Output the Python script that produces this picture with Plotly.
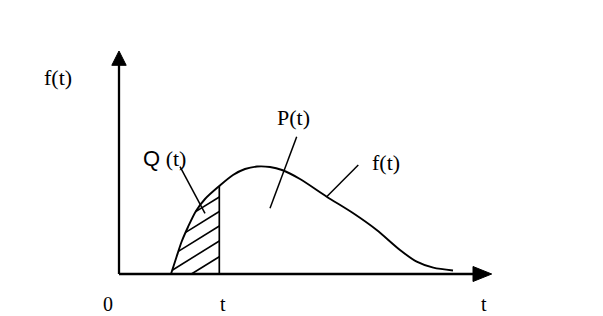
import numpy as np
import plotly.graph_objects as go

# density curve f(t) (schematic values)
T_VALUES = [5.2, 5.75, 6.25, 6.9, 7.7, 8.6, 10.03, 11.4, 12.6, 13.8, 15.1, 16.3,
            18.1, 20.77, 23.43, 25.77, 28.1, 29.77, 31.43, 33.4]
F_VALUES = [0.0, 1.7, 3.2, 4.7, 6.3, 7.5, 8.8, 9.9, 10.5, 10.75, 10.7, 10.4,
            9.5, 7.73, 6.07, 4.4, 2.4, 1.23, 0.63, 0.35]
T_CUT = 10.03                      # the time t splitting Q(t) and P(t)
HATCH_LEVELS = [1.73, 3.3, 4.8, 6.25, 7.7]   # hatch line heights at t
HATCH_SLOPE = 0.62

X_AXIS_END, X_ARROW_TIP = 35.7, 37.27
Y_AXIS_END, Y_ARROW_TIP = 21.07, 22.3

LABELS = [  # text, x, y, font family, size
    ("f(t)", -6.07, 19.65, "Liberation Serif", 22),
    ("<span style='font-family:Liberation Sans'>Q</span> (t)", 4.5, 11.6, "Liberation Serif", 22),
    ("P(t)", 17.47, 15.7, "Liberation Serif", 22),
    ("f(t)", 26.7, 11.2, "Liberation Serif", 22),
    ("0", -1.15, -2.95, "Liberation Serif", 20),
    ("t", 10.35, -2.95, "Liberation Serif", 20),
    ("t", 36.5, -2.95, "Liberation Serif", 20),
]
LEADERS = [  # label leader lines: x0, y0, x1, y1
    (6.1, 10.73, 8.6, 6.07),
    (17.77, 13.73, 15.1, 6.57),
    (23.93, 10.9, 20.77, 7.73),
]

t_arr = np.array(T_VALUES)
f_arr = np.array(F_VALUES)

fig = go.Figure()

# curve
fig.add_trace(go.Scatter(x=T_VALUES, y=F_VALUES, mode="lines",
                         line=dict(color="black", width=1.9, shape="spline", smoothing=0.8),
                         hoverinfo="skip"))

# vertical line at t
f_cut = float(np.interp(T_CUT, t_arr, f_arr))
fig.add_trace(go.Scatter(x=[T_CUT, T_CUT], y=[0, f_cut], mode="lines",
                         line=dict(color="black", width=1.7), hoverinfo="skip"))

# hatching of Q(t)
hx, hy = [], []
for f0 in HATCH_LEVELS:
    ts = np.arange(T_CUT, T_VALUES[0] - 0.01, -0.005)
    end_t, end_f = ts[-1], f0 - HATCH_SLOPE * (T_CUT - ts[-1])
    for tt in ts:
        fl = f0 - HATCH_SLOPE * (T_CUT - tt)
        if fl < 0:
            end_t, end_f = T_CUT - f0 / HATCH_SLOPE, 0.0
            break
        if fl > np.interp(tt, t_arr, f_arr):
            end_t, end_f = tt, fl
            break
    hx += [T_CUT, end_t, None]
    hy += [f0, end_f, None]
fig.add_trace(go.Scatter(x=hx, y=hy, mode="lines",
                         line=dict(color="black", width=1.6), hoverinfo="skip"))

# leader lines
for x0, y0, x1, y1 in LEADERS:
    fig.add_trace(go.Scatter(x=[x0, x1], y=[y0, y1], mode="lines",
                             line=dict(color="black", width=1.5), hoverinfo="skip"))

# axes with arrowheads
fig.add_trace(go.Scatter(x=[0, X_AXIS_END], y=[0, 0], mode="lines",
                         line=dict(color="black", width=2.3), hoverinfo="skip"))
fig.add_trace(go.Scatter(x=[0, 0], y=[0, Y_AXIS_END], mode="lines",
                         line=dict(color="black", width=2.3), hoverinfo="skip"))
fig.add_shape(type="path", xref="x", yref="y",
              path=f"M {X_AXIS_END - 0.3},{-0.75} L {X_ARROW_TIP},0 L {X_AXIS_END - 0.3},0.75 Z",
              fillcolor="black", line=dict(color="black", width=1))
fig.add_shape(type="path", xref="x", yref="y",
              path=f"M -0.72,{Y_AXIS_END - 0.2} L 0,{Y_ARROW_TIP} L 0.72,{Y_AXIS_END - 0.2} Z",
              fillcolor="black", line=dict(color="black", width=1))

for text, x, y, fam, size in LABELS:
    fig.add_annotation(x=x, y=y, text=text, showarrow=False, xanchor="center", yanchor="middle",
                       font=dict(family=fam, size=size, color="black"))

fig.update_layout(
    width=603, height=316, margin=dict(l=0, r=0, t=0, b=0),
    paper_bgcolor="white", plot_bgcolor="white", showlegend=False,
    xaxis=dict(range=[-11.9, 48.4], visible=False, fixedrange=True),
    yaxis=dict(range=[-4.2, 27.4], visible=False, fixedrange=True),
)
fig.write_html("out.html")
